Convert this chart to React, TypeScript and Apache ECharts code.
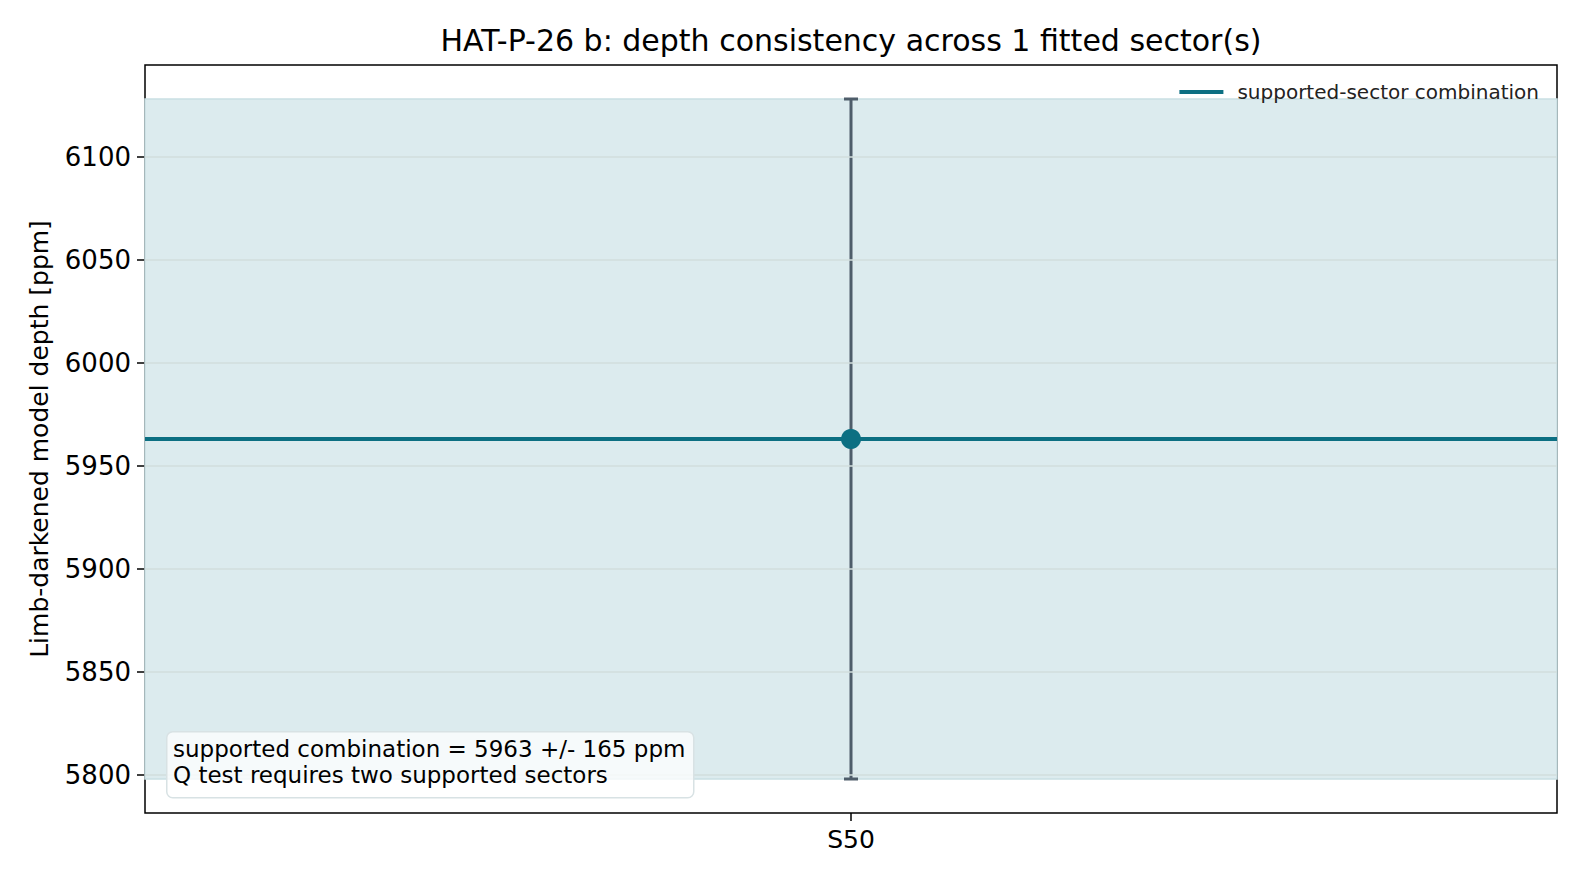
import { useEffect, useRef } from 'react';
import * as echarts from 'echarts';

const sectors = ['S50'];
const depths = [5963];
const depthErrors = [165];
const combinedDepth = 5963;
const combinedError = 165;
const yTicks = [5800, 5850, 5900, 5950, 6000, 6050, 6100];

const FONT = '"DejaVu Sans", sans-serif';
const TEAL = '#0c6f82';

export default function App() {
  const elRef = useRef<HTMLDivElement | null>(null);

  useEffect(() => {
    if (!elRef.current) return;
    const chart = echarts.init(elRef.current, null, { renderer: 'svg' });
    const lo = combinedDepth - combinedError;
    const hi = combinedDepth + combinedError;
    const pad = (hi - lo) * 0.05;

    chart.setOption({
      animation: false,
      backgroundColor: '#fff',
      textStyle: { fontFamily: FONT },
      title: {
        text: `HAT-P-26 b: depth consistency across ${sectors.length} fitted sector(s)`,
        left: 846,
        textAlign: 'center',
        top: 20,
        textStyle: { fontFamily: FONT, fontSize: 30, fontWeight: 'normal', color: '#000' },
      },
      legend: {
        right: 40,
        top: 77,
        itemWidth: 44,
        itemHeight: 4,
        icon: 'rect',
        textStyle: { fontFamily: FONT, fontSize: 20, color: '#222', padding: [0, 0, 0, 9] },
        data: ['supported-sector combination'],
      },
      grid: { left: 145, right: 27, top: 65, bottom: 69, show: true, borderColor: '#000', borderWidth: 1.5, backgroundColor: 'transparent' },
      xAxis: {
        type: 'category',
        data: sectors,
        boundaryGap: true,
        axisLine: { show: false },
        axisTick: { show: true, alignWithLabel: true, length: 8, lineStyle: { color: '#000', width: 1.5 } },
        axisLabel: { fontFamily: FONT, fontSize: 25, color: '#000', margin: 14 },
        splitLine: { show: false },
      },
      yAxis: {
        type: 'value',
        min: lo - pad,
        max: hi + pad,
        name: 'Limb-darkened model depth [ppm]',
        nameLocation: 'middle',
        nameGap: 93,
        nameTextStyle: { fontFamily: FONT, fontSize: 25, color: '#000' },
        axisLine: { show: false },
        axisTick: { show: true, length: 8, customValues: yTicks, lineStyle: { color: '#000', width: 1.5 } },
        axisLabel: {
          fontFamily: FONT,
          fontSize: 26,
          color: '#000',
          margin: 14,
          customValues: yTicks,
          formatter: (v: number) => String(v),
        },
        splitLine: { show: false },
      },
      series: [
        {
          name: 'supported-sector combination',
          type: 'line',
          data: [],
          color: TEAL,
          lineStyle: { color: TEAL, width: 4 },
          markArea: {
            silent: true,
            itemStyle: { color: '#dcebee', borderColor: '#c9dfe3', borderWidth: 1.5 },
            data: [[{ yAxis: lo }, { yAxis: hi }]],
          },
          markLine: {
            silent: true,
            symbol: 'none',
            label: { show: false },
            lineStyle: { color: '#d2dedd', width: 1.5, type: 'solid' },
            data: yTicks.map((v) => ({ yAxis: v })),
          },
          z: 1,
        },
        {
          type: 'line',
          data: [],
          markLine: {
            silent: true,
            symbol: 'none',
            label: { show: false },
            lineStyle: { color: TEAL, width: 4, type: 'solid' },
            data: [{ yAxis: combinedDepth }],
          },
          z: 3,
        },
        {
          type: 'custom',
          data: sectors.map((_, i) => [i, depths[i], depthErrors[i]]),
          renderItem: (params: any, api: any) => {
            const x = api.value(0);
            const top = api.coord([x, api.value(1) + api.value(2)]);
            const bot = api.coord([x, api.value(1) - api.value(2)]);
            const style = { stroke: '#4e5d6a', lineWidth: 3 };
            const half = 7;
            return {
              type: 'group',
              children: [
                { type: 'line', shape: { x1: top[0], y1: top[1], x2: bot[0], y2: bot[1] }, style },
                { type: 'line', shape: { x1: top[0] - half, y1: top[1], x2: top[0] + half, y2: top[1] }, style },
                { type: 'line', shape: { x1: bot[0] - half, y1: bot[1], x2: bot[0] + half, y2: bot[1] }, style },
              ],
            };
          },
          z: 4,
        },
        {
          type: 'scatter',
          data: sectors.map((s, i) => [s, depths[i]]),
          symbolSize: 20,
          itemStyle: { color: TEAL, opacity: 1 },
          z: 5,
        },
      ],
      graphic: {
        elements: [
          {
            type: 'rect',
            left: 166,
            top: 731,
            z: 100,
            shape: { width: 527, height: 66, r: 6 },
            style: { fill: 'rgba(255,255,255,0.75)', stroke: '#d8e2e4', lineWidth: 1.5 },
          },
          {
            type: 'text',
            left: 173,
            top: 736,
            z: 101,
            style: {
              text: `supported combination = ${combinedDepth} +/- ${combinedError} ppm\nQ test requires two supported sectors`,
              font: `23px ${FONT}`,
              fill: '#000',
              lineHeight: 26,
            },
          },
        ],
      },
    });

    return () => {
      chart.dispose();
    };
  }, []);

  return <div ref={elRef} style={{ position: 'fixed', left: 0, top: 0, width: 1584, height: 882 }} />;
}
